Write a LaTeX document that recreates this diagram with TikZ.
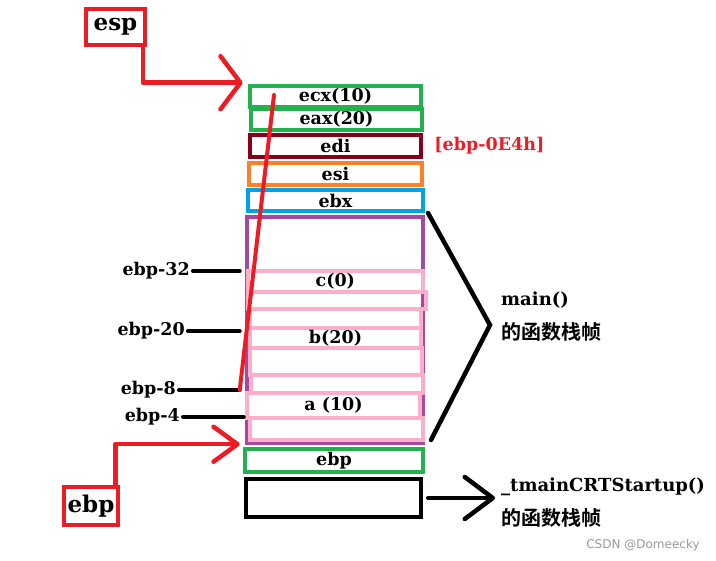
\documentclass[tikz,border=0pt]{standalone}
\usepackage{fontspec}
\setmainfont{DejaVu Serif}
\setsansfont{DejaVu Sans}
\newfontfamily\cjk{Noto Sans CJK SC}[BoldFont={Noto Sans CJK SC Bold}]
\usetikzlibrary{arrows.meta,positioning}

\definecolor{regred}{HTML}{ED1C24}
\definecolor{reggreen}{HTML}{22B14C}
\definecolor{regdark}{HTML}{880015}
\definecolor{regorange}{HTML}{FF7F27}
\definecolor{regblue}{HTML}{00A2E8}
\definecolor{regpurple}{HTML}{A349A4}
\definecolor{regpink}{HTML}{FFAEC9}

\begin{document}
\begin{tikzpicture}[x=1pt,y=-1pt]

\tikzset{
  cell/.style  = {draw, line width=4.5pt, inner sep=0pt, align=center,
                  font=\bfseries\fontsize{17.5}{19}\selectfont},
  slot/.style  = {cell, draw=regpink, line width=4pt},
  tag/.style   = {draw=regred, line width=4.5pt, inner sep=0pt,
                  font=\bfseries\fontsize{23}{25}\selectfont},
  lbl/.style   = {font=\bfseries\fontsize{17.5}{19}\selectfont, inner sep=3pt},
  fnlbl/.style = {lbl, font=\bfseries\fontsize{18}{20}\selectfont},
  cnlbl/.style = {font=\cjk\bfseries\fontsize{20}{22}\selectfont, inner sep=3pt},
  tick/.style  = {line width=4pt, line cap=round},
  ptr/.style   = {draw=regred, line width=4.5pt, line cap=round, line join=round},
  brace/.style = {line width=4.5pt, line cap=round},
}

\useasboundingbox (0,0) rectangle (716,561);

% main() frame and its slots
\node[cell, draw=regpurple, minimum width=176pt, minimum height=226pt] (frame) at (335,330) {};
\node[slot, minimum width=175pt, minimum height=21pt] (r1) at (335.3,281.5) {c(0)};
\node[slot, minimum width=178pt, minimum height=17pt] (r2) at (337,300.5) {};
\node[slot, minimum width=171pt, minimum height=19pt] (r3) at (335.5,318.5) {};
\node[slot, minimum width=171pt, minimum height=20pt] (r4) at (335.5,338) {b(20)};
\node[slot, minimum width=172pt, minimum height=27pt] (r5) at (336,361.5) {};
\node[slot, minimum width=172pt, minimum height=18pt] (r6) at (337,384) {};
\node[slot, minimum width=173pt, minimum height=25pt] (r7) at (333.5,405.5) {a (10)};
\node[slot, minimum width=173pt, minimum height=22pt] (r8) at (336.5,429) {};

% saved registers
\node[cell, draw=regblue, minimum width=175pt, minimum height=21pt] (ebx) at (335.5,200.5) {ebx};
\node[cell, draw=regorange, minimum width=173pt, minimum height=22pt] (esi) at (335.5,174) {esi};
\node[cell, draw=regdark, minimum width=171pt, minimum height=22pt] (edi) at (335.5,146) {edi};
\node[cell, draw=reggreen, minimum width=171pt, minimum height=21pt] (eax) at (336.5,119.5) {eax(20)};
\node[cell, draw=reggreen, minimum width=171pt, minimum height=21pt] (ecx) at (335.5,96.5) {ecx(10)};
\node[cell, draw=reggreen, minimum width=178pt, minimum height=23pt] (ebp) at (334,460.5) {ebp};
\node[cell, draw=black, minimum width=175pt, minimum height=38pt] (crt) at (333.5,498) {};

\node[lbl, text=regred, right=8pt of edi] (off) {[ebp-0E4h]};

% pointer registers
\node[tag, minimum width=59pt, minimum height=36pt] (esp) at (115.5,27) {esp};
\node[tag, minimum width=54pt, minimum height=38pt] (ebpreg) at (91,506) {ebp};
\draw[ptr, -{Straight Barb[length=20pt,width=53pt,round]}] ([xshift=-4.5pt]esp.south east) |- ([xshift=-5pt,yshift=1pt]ecx.north west);
\draw[ptr, -{Straight Barb[length=24pt,width=35pt,round]}] ([xshift=-5pt]ebpreg.north east) |- ([xshift=-5pt,yshift=1pt]frame.south west);

% offsets from ebp
\node[lbl, anchor=east] (m32) at (193,271) {ebp-32};
\node[lbl, anchor=east] (m20) at (188,331) {ebp-20};
\node[lbl, anchor=east] (m8) at (179,390) {ebp-8};
\node[lbl, anchor=east] (m4) at (183,417) {ebp-4};
\draw[tick, shorten >=5pt] (m32.east) -- (m32.east -| frame.west);
\draw[tick, shorten >=5pt] (m20.east) -- (m20.east -| frame.west);
\path (m8.east -| frame.west) ++(-5,0) coordinate (t8);
\draw[tick] (m8.east) -- (t8);
\draw[tick, shorten >=1pt] (m4.east) -- (m4.east -| frame.west);

\coordinate (sptop) at (274,95);
\draw[ptr, line width=4pt] (t8) -- (sptop);

% frame labels
\node[fnlbl, anchor=west] (mainfn) at (498,300) {main()};
\node[cnlbl, anchor=west] (maincn) at (498,332) {的函数栈帧};
\node[fnlbl, anchor=west] (crtfn) at (498,487) {\_tmainCRTStartup()};
\node[cnlbl, anchor=west] (crtcn) at (498,518) {的函数栈帧};

\coordinate (bt) at (428,213);
\coordinate (bv) at (490,325);
\coordinate (bb) at (431,440);
\draw[brace] (bt) -- (bv) -- (bb);
\draw[brace, -{Straight Barb[length=28pt,width=42pt,round]}] ([xshift=5pt]crt.east) -- ([xshift=-3pt]crtfn.west |- crt.east);

\node[font=\sffamily\fontsize{12}{14}\selectfont, text=black!40] (wm) at (643,545) {CSDN @Domeecky};

\end{tikzpicture}
\end{document}
